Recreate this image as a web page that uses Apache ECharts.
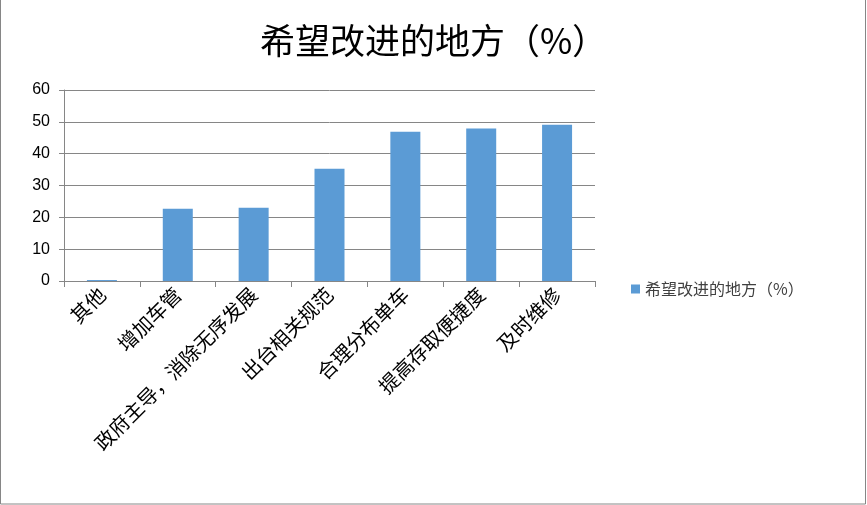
<!DOCTYPE html>
<html>
<head>
<meta charset="utf-8">
<script src="https://cdn.jsdelivr.net/npm/echarts@6/dist/echarts.min.js"></script>
<style>html,body{margin:0;padding:0;background:#fff}#c{width:867px;height:505px}</style>
</head>
<body>
<div id="c"></div>
<script>
var categories = ['其他','增加车管','政府主导，消除无序发展','出台相关规范','合理分布单车','提高存取便捷度','及时维修'];
var values = [0.3, 22.7, 23.0, 35.3, 46.9, 47.9, 49.1];
var seriesName = '希望改进的地方（%）';
var titleText = '希望改进的地方（%）';
var yTicks = [0, 10, 20, 30, 40, 50, 60];

var chart = echarts.init(document.getElementById('c'));
chart.setOption({
  animation: false,
  backgroundColor: '#fff',
  title: {
    text: titleText,
    left: 'center',
    top: 18,
    textStyle: {fontFamily: 'Noto Sans CJK SC', fontSize: 35, fontWeight: 'normal', color: '#000'}
  },
  legend: {
    data: [seriesName],
    left: 626,
    top: 276,
    icon: 'rect',
    itemWidth: 9,
    itemHeight: 9,
    itemGap: 5,
    textStyle: {fontFamily: 'Noto Sans CJK SC', fontSize: 16, color: '#404040'}
  },
  grid: {left: 64, right: 272, top: 90, bottom: 224, containLabel: false},
  xAxis: {
    type: 'category',
    data: categories,
    boundaryGap: true,
    axisLine: {lineStyle: {color: '#868686', width: 1}},
    axisTick: {show: true, length: 6, lineStyle: {color: '#868686'}},
    axisLabel: {rotate: 45, interval: 0, margin: 10, fontFamily: 'Noto Sans CJK SC', fontSize: 20, color: '#000'}
  },
  yAxis: {
    type: 'value',
    min: yTicks[0],
    max: yTicks[yTicks.length - 1],
    interval: 10,
    axisLine: {show: true, lineStyle: {color: '#868686'}},
    axisTick: {show: true, length: 5, lineStyle: {color: '#868686'}},
    splitLine: {lineStyle: {color: '#868686', width: 1}},
    axisLabel: {margin: 14, fontFamily: 'Liberation Sans', fontSize: 16, color: '#000'}
  },
  series: [{
    name: seriesName,
    type: 'bar',
    data: values,
    barWidth: 30,
    itemStyle: {color: '#5B9BD5'}
  }],
  graphic: [{
    type: 'rect',
    shape: {x: 0.5, y: -2, width: 865, height: 506},
    style: {fill: 'none', stroke: '#868686', lineWidth: 1}
  }]
});
</script>
</body>
</html>
